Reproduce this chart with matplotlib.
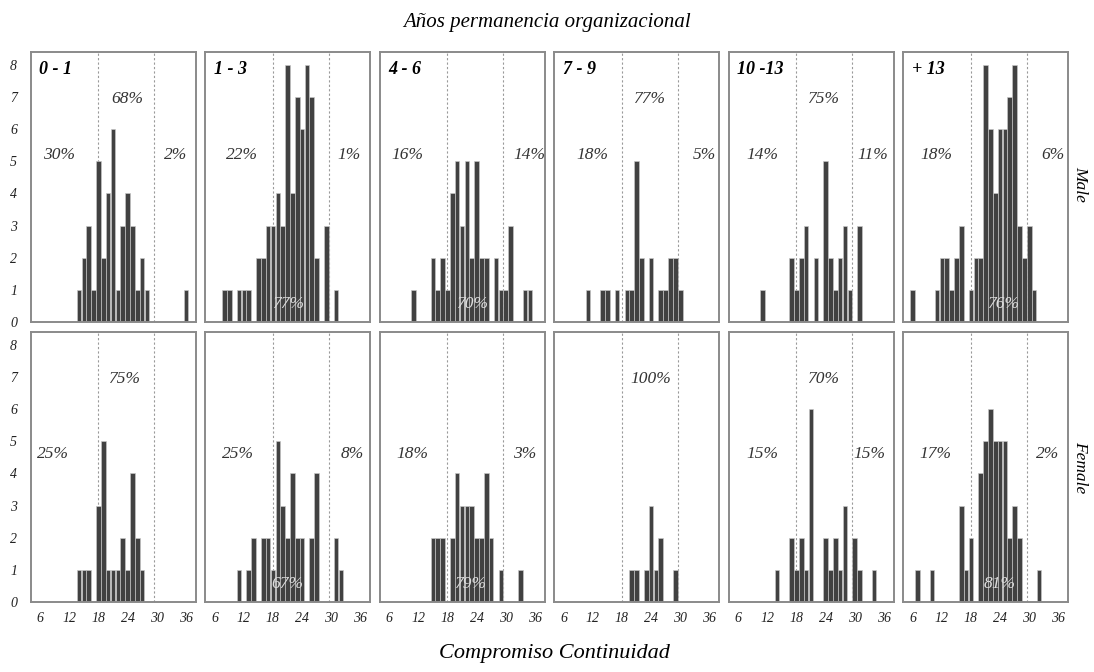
import matplotlib
matplotlib.use("Agg")
import matplotlib.pyplot as plt

# score axis shared by every histogram (Compromiso Continuidad)
scores = list(range(6, 38))

# counts per score, one list per panel
# score:        6  7  8  9 10 11 12 13 14 15 16 17 18 19 20 21 22 23 24 25 26 27 28 29 30 31 32 33 34 35 36 37
male_0_1 =     [0, 0, 0, 0, 0, 0, 0, 0, 1, 2, 3, 1, 5, 2, 4, 6, 1, 3, 4, 3, 1, 2, 1, 0, 0, 0, 0, 0, 0, 0, 1, 0]
male_1_3 =     [0, 0, 1, 1, 0, 1, 1, 1, 0, 2, 2, 3, 3, 4, 3, 8, 4, 7, 6, 8, 7, 2, 0, 3, 0, 1, 0, 0, 0, 0, 0, 0]
male_4_6 =     [0, 0, 0, 0, 0, 1, 0, 0, 0, 2, 1, 2, 1, 4, 5, 3, 5, 2, 5, 2, 2, 0, 2, 1, 1, 3, 0, 0, 1, 1, 0, 0]
male_7_9 =     [0, 0, 0, 0, 0, 1, 0, 0, 1, 1, 0, 1, 0, 1, 1, 5, 2, 0, 2, 0, 1, 1, 2, 2, 1, 0, 0, 0, 0, 0, 0, 0]
male_10_13 =   [0, 0, 0, 0, 0, 1, 0, 0, 0, 0, 0, 2, 1, 2, 3, 0, 2, 0, 5, 2, 1, 2, 3, 1, 0, 3, 0, 0, 0, 0, 0, 0]
male_13 =      [1, 0, 0, 0, 0, 1, 2, 2, 1, 2, 3, 0, 1, 2, 2, 8, 6, 4, 6, 6, 7, 8, 3, 2, 3, 1, 0, 0, 0, 0, 0, 0]
female_0_1 =   [0, 0, 0, 0, 0, 0, 0, 0, 1, 1, 1, 0, 3, 5, 1, 1, 1, 2, 1, 4, 2, 1, 0, 0, 0, 0, 0, 0, 0, 0, 0, 0]
female_1_3 =   [0, 0, 0, 0, 0, 1, 0, 1, 2, 0, 2, 2, 1, 5, 3, 2, 4, 2, 2, 0, 2, 4, 0, 0, 0, 2, 1, 0, 0, 0, 0, 0]
female_4_6 =   [0, 0, 0, 0, 0, 0, 0, 0, 0, 2, 2, 2, 0, 2, 4, 3, 3, 3, 2, 2, 4, 2, 0, 1, 0, 0, 0, 1, 0, 0, 0, 0]
female_7_9 =   [0, 0, 0, 0, 0, 0, 0, 0, 0, 0, 0, 0, 0, 0, 1, 1, 0, 1, 3, 1, 2, 0, 0, 1, 0, 0, 0, 0, 0, 0, 0, 0]
female_10_13 = [0, 0, 0, 0, 0, 0, 0, 0, 1, 0, 0, 2, 1, 2, 1, 6, 0, 0, 2, 1, 2, 1, 3, 0, 2, 1, 0, 0, 1, 0, 0, 0]
female_13 =    [0, 1, 0, 0, 1, 0, 0, 0, 0, 0, 3, 1, 2, 0, 4, 5, 6, 5, 5, 5, 2, 3, 2, 0, 0, 0, 1, 0, 0, 0, 0, 0]

groups = ["0 - 1", "1 - 3", "4 - 6", "7 - 9", "10 -13", "+ 13"]
rows = ["Male", "Female"]
counts = [[male_0_1, male_1_3, male_4_6, male_7_9, male_10_13, male_13],
          [female_0_1, female_1_3, female_4_6, female_7_9, female_10_13, female_13]]

# percentages low / medium / high per panel ("" = not shown)
male_low = ["30%", "22%", "16%", "18%", "14%", "18%"]
male_mid = ["68%", "77%", "70%", "77%", "75%", "76%"]
male_high = ["2%", "1%", "14%", "5%", "11%", "6%"]
female_low = ["25%", "25%", "18%", "", "15%", "17%"]
female_mid = ["75%", "67%", "79%", "100%", "70%", "81%"]
female_high = ["", "8%", "3%", "", "15%", "2%"]
pct_low = [male_low, female_low]
pct_mid = [male_mid, female_mid]
pct_high = [male_high, female_high]

# label placement (style only)
low_x = [[9.8, 11.6, 9.7, 11.9, 10.9, 10.9], [8.7, 10.9, 10.8, 0, 10.9, 10.6]]
high_x = [[33.8, 33.7, 34.9, 35.0, 33.7, 34.9], [0, 34.3, 33.9, 0, 33.0, 33.8]]
mid_x = [[24.0, 21.2, 23.2, 23.7, 23.7, 24.7], [23.5, 20.9, 22.8, 24.0, 23.7, 24.0]]
mid_inside = [[False, True, True, False, False, True], [False, True, True, False, False, True]]
side_y = [5.2, 4.6]

serif = "Liberation Serif"
bar_col = "#414141"
frame_col = "#8a8a8a"

fig, axes = plt.subplots(2, 6, figsize=(10.94, 6.72), dpi=100, sharex=True, sharey=True)
fig.subplots_adjust(left=0.0283, right=0.9763, top=0.9226, bottom=0.1042,
                    wspace=0.06, hspace=0.037)

for r in range(2):
    for c in range(6):
        ax = axes[r][c]
        ax.bar(scores, counts[r][c], width=0.95, color=bar_col,
               edgecolor="#c8c8c8", linewidth=0.45, zorder=2)
        ax.axvline(18, color="#9a9a9a", lw=0.8, ls=(0, (2, 2)), zorder=1)
        ax.axvline(29.5, color="#9a9a9a", lw=0.8, ls=(0, (2, 2)), zorder=1)
        ax.set_xlim(4.1, 38)
        ax.set_ylim(0, 8.4)
        ax.set_xticks([6, 12, 18, 24, 30, 36])
        ax.set_yticks(range(0, 9))
        ax.tick_params(length=0, pad=3)
        ax.tick_params(axis="x", pad=7)
        for sp in ax.spines.values():
            sp.set_color(frame_col)
            sp.set_linewidth(1.4)
            sp.set_zorder(4)
        for lab in ax.get_xticklabels() + ax.get_yticklabels():
            lab.set_fontfamily(serif)
            lab.set_fontstyle("italic")
            lab.set_fontsize(10)
            lab.set_color("#222222")
        if c == 0:
            ax.tick_params(axis="y", pad=10)

        txt = dict(family=serif, style="italic", fontsize=12.5, ha="center", va="center")
        if pct_low[r][c]:
            ax.text(low_x[r][c], side_y[r], pct_low[r][c], color="#333333", **txt)
        if pct_high[r][c]:
            ax.text(high_x[r][c], side_y[r], pct_high[r][c], color="#333333", **txt)
        if mid_inside[r][c]:
            ax.text(mid_x[r][c], 0.55, pct_mid[r][c], color="#dddddd", zorder=3, **txt)
        else:
            ax.text(mid_x[r][c], 6.95, pct_mid[r][c], color="#333333", **txt)

        if r == 0:
            ax.text(0.05, 0.935, groups[c], transform=ax.transAxes, family=serif,
                    style="italic", weight="bold", fontsize=13, ha="left", va="center")

    axes[r][5].text(1.075, 0.5 if r == 1 else 0.51, rows[r], transform=axes[r][5].transAxes,
                    rotation=270, family=serif, style="italic", fontsize=12.5,
                    ha="center", va="center")

fig.text(0.5, 0.967, "Años permanencia organizacional", family=serif, style="italic",
         fontsize=15, ha="center", va="center")
fig.text(0.507, 0.028, "Compromiso Continuidad", family=serif, style="italic",
         fontsize=16, ha="center", va="center")

fig.savefig("out.png", dpi=100)
